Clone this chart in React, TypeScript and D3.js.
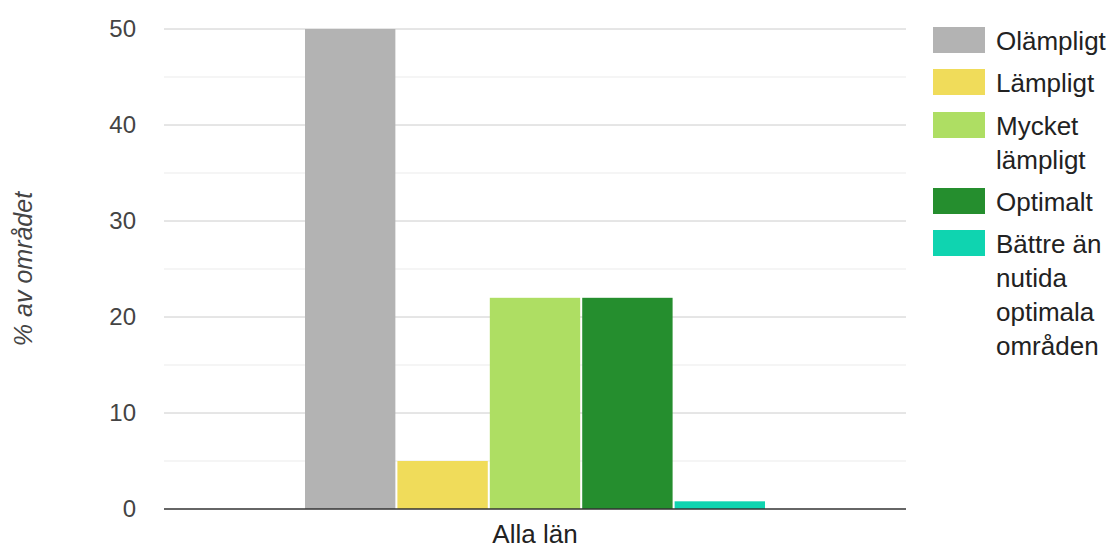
import React, { useRef, useEffect } from 'react';
import * as d3 from 'd3';

const categories = ['Alla län'];
const seriesNames = ['Olämpligt', 'Lämpligt', 'Mycket lämpligt', 'Optimalt', 'Bättre än nutida optimala områden'];
const legendLines = [['Olämpligt'], ['Lämpligt'], ['Mycket', 'lämpligt'], ['Optimalt'], ['Bättre än', 'nutida', 'optimala', 'områden']];
const seriesValues = [50, 5, 22, 22, 0.8];
const seriesColors = ['#b3b3b3', '#f0dc5a', '#aede63', '#258e2e', '#0fd4b0'];
const yTicks = [0, 10, 20, 30, 40, 50];
const yMinorTicks = [5, 15, 25, 35, 45];

function App(): React.ReactElement {
    const ref = useRef<SVGSVGElement | null>(null);

    useEffect(() => {
        if (!ref.current) return;
        const svg = d3.select(ref.current);
        svg.selectAll('*').remove();

        const width = 1110;
        const height = 550;
        const margin = { top: 29, right: 204, bottom: 41, left: 164 };
        const font = '"Liberation Sans", Arial, sans-serif';

        const x = d3.scaleBand<string>()
            .domain(categories)
            .range([margin.left, width - margin.right])
            .paddingInner(0)
            .paddingOuter(0.3065);

        const xs = d3.scaleBand<string>()
            .domain(seriesNames)
            .range([0, x.bandwidth()])
            .paddingInner(0.022);

        const y = d3.scaleLinear()
            .domain([0, 50])
            .range([height - margin.bottom, margin.top]);

        const grid = svg.append('g');
        grid.selectAll('line.minor')
            .data(yMinorTicks)
            .join('line')
            .attr('x1', margin.left)
            .attr('x2', width - margin.right)
            .attr('y1', d => y(d))
            .attr('y2', d => y(d))
            .attr('stroke', '#ebebeb')
            .attr('stroke-width', 1);
        grid.selectAll('line.major')
            .data(yTicks.filter(d => d !== 0))
            .join('line')
            .attr('x1', margin.left)
            .attr('x2', width - margin.right)
            .attr('y1', d => y(d))
            .attr('y2', d => y(d))
            .attr('stroke', '#cccccc')
            .attr('stroke-width', 1);

        svg.append('g')
            .selectAll('text')
            .data(yTicks)
            .join('text')
            .attr('x', 136)
            .attr('y', d => y(d))
            .attr('dy', '0.35em')
            .attr('text-anchor', 'end')
            .attr('font-family', font)
            .attr('font-size', 24)
            .attr('fill', '#444')
            .text(d => d);

        const groups = svg.append('g')
            .selectAll('g')
            .data(categories)
            .join('g')
            .attr('transform', d => `translate(${x(d)},0)`);

        groups.selectAll('rect')
            .data(seriesNames.map((s, i) => ({ s, v: seriesValues[i], c: seriesColors[i] })))
            .join('rect')
            .attr('x', d => xs(d.s)!)
            .attr('width', xs.bandwidth())
            .attr('y', d => y(d.v))
            .attr('height', d => y(0) - y(d.v))
            .attr('fill', d => d.c);

        svg.append('line')
            .attr('x1', margin.left)
            .attr('x2', width - margin.right)
            .attr('y1', y(0))
            .attr('y2', y(0))
            .attr('stroke', '#333')
            .attr('stroke-width', 1.5);

        svg.append('g')
            .selectAll('text')
            .data(categories)
            .join('text')
            .attr('x', d => x(d)! + x.bandwidth() / 2)
            .attr('y', 543)
            .attr('text-anchor', 'middle')
            .attr('font-family', font)
            .attr('font-size', 26)
            .attr('fill', '#222')
            .text(d => d);

        svg.append('text')
            .attr('transform', `translate(32,${y(25)}) rotate(-90)`)
            .attr('text-anchor', 'middle')
            .attr('font-family', font)
            .attr('font-size', 25)
            .attr('font-style', 'italic')
            .attr('fill', '#444')
            .text('% av området');

        // legend
        const legendTops = [27, 69, 112, 188, 230];
        const legend = svg.append('g')
            .selectAll('g')
            .data(seriesNames.map((s, i) => ({ s, c: seriesColors[i], lines: legendLines[i], top: legendTops[i] })))
            .join('g');

        legend.append('rect')
            .attr('x', 933)
            .attr('y', d => d.top)
            .attr('width', 52)
            .attr('height', 26)
            .attr('fill', d => d.c);

        legend.each(function (d) {
            const t = d3.select(this).append('text')
                .attr('font-family', font)
                .attr('font-size', 26)
                .attr('fill', '#222');
            d.lines.forEach((line, j) => {
                t.append('tspan')
                    .attr('x', 996)
                    .attr('y', d.top + 22.5 + j * 34)
                    .text(line);
            });
        });
    }, []);

    return (
        <svg
            ref={ref}
            width={1110}
            height={550}
            style={{ position: 'absolute', left: 0, top: 0, background: '#fff' }}
        />
    );
}

export default App;
